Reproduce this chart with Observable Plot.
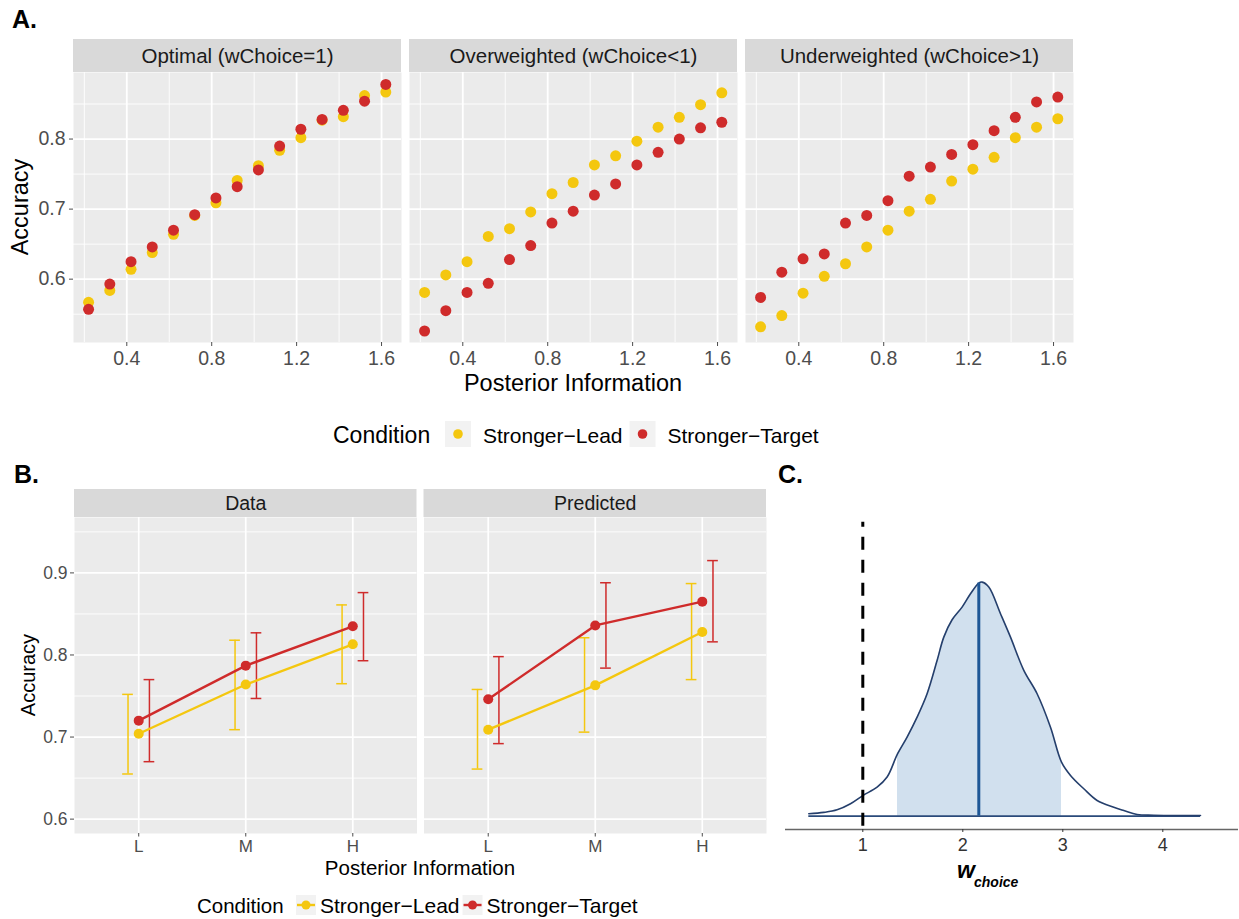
<!DOCTYPE html>
<html><head><meta charset="utf-8">
<script src="https://cdn.jsdelivr.net/npm/d3@7"></script>
<script src="https://cdn.jsdelivr.net/npm/@observablehq/plot@0.6"></script>
<style>
html,body{margin:0;padding:0;background:#fff;}
#root{position:relative;width:1239px;height:919px;overflow:hidden;background:#fff;font-family:"Liberation Sans",Arial,Helvetica,sans-serif;}
#root svg{position:absolute;max-width:none;}
</style></head><body><div id="root"></div>
<script>
// ---------------- DATA ----------------
const conditions = ["Stronger\u2212Lead", "Stronger\u2212Target"];
const condColors = ["#F4C70F", "#CF2B2B"];

// Panel A
const facetsA = ["Optimal (wChoice=1)", "Overweighted (wChoice<1)", "Underweighted (wChoice>1)"];
const posteriorInfo = [0.22, 0.32, 0.42, 0.52, 0.62, 0.72, 0.82, 0.92, 1.02, 1.12, 1.22, 1.32, 1.42, 1.52, 1.62];
const optimalLead   = [0.567, 0.584, 0.614, 0.638, 0.664, 0.691, 0.709, 0.741, 0.762, 0.784, 0.802, 0.827, 0.832, 0.862, 0.867];
const optimalTarget = [0.557, 0.593, 0.625, 0.646, 0.670, 0.692, 0.716, 0.732, 0.756, 0.790, 0.814, 0.828, 0.841, 0.854, 0.878];
const overLead      = [0.581, 0.606, 0.625, 0.661, 0.672, 0.696, 0.722, 0.738, 0.763, 0.776, 0.797, 0.817, 0.831, 0.849, 0.866];
const overTarget    = [0.526, 0.555, 0.581, 0.594, 0.628, 0.648, 0.680, 0.697, 0.720, 0.736, 0.763, 0.781, 0.800, 0.816, 0.824];
const underLead     = [0.532, 0.548, 0.580, 0.604, 0.622, 0.646, 0.670, 0.697, 0.714, 0.740, 0.757, 0.774, 0.802, 0.817, 0.829];
const underTarget   = [0.574, 0.610, 0.629, 0.636, 0.680, 0.691, 0.712, 0.747, 0.760, 0.778, 0.792, 0.812, 0.831, 0.853, 0.860];
const xTicksA = [0.4, 0.8, 1.2, 1.6];
const xMinorA = [0.2, 0.6, 1.0, 1.4];
const yTicksA = [0.6, 0.7, 0.8];
const yMinorA = [0.55, 0.65, 0.75, 0.85];

// Panel B
const facetsB = ["Data", "Predicted"];
const infoLevels = ["L", "M", "H"];
const dataLeadMean   = [0.704, 0.764, 0.813];
const dataLeadLo     = [0.655, 0.709, 0.765];
const dataLeadHi     = [0.752, 0.818, 0.861];
const dataTargetMean = [0.720, 0.787, 0.835];
const dataTargetLo   = [0.670, 0.747, 0.793];
const dataTargetHi   = [0.770, 0.827, 0.876];
const predLeadMean   = [0.709, 0.763, 0.828];
const predLeadLo     = [0.661, 0.706, 0.770];
const predLeadHi     = [0.758, 0.821, 0.887];
const predTargetMean = [0.746, 0.836, 0.865];
const predTargetLo   = [0.692, 0.784, 0.816];
const predTargetHi   = [0.798, 0.888, 0.915];
const yTicksB = [0.6, 0.7, 0.8, 0.9];
const yMinorB = [0.65, 0.75, 0.85, 0.95];

// Panel C (posterior density of w_choice, relative height)
const densX = [0.46, 0.61, 0.743, 0.877, 1.0, 1.143, 1.243, 1.347, 1.443, 1.543, 1.643, 1.743, 1.81, 1.893, 1.993, 2.077, 2.16, 2.193, 2.26, 2.377, 2.477, 2.61, 2.743, 2.877, 2.987, 3.077, 3.21, 3.343, 3.51, 3.61, 3.743, 3.91, 4.377];
const densH = [0.010, 0.016, 0.027, 0.053, 0.088, 0.124, 0.167, 0.266, 0.338, 0.423, 0.523, 0.665, 0.765, 0.839, 0.893, 0.950, 0.996, 1.0, 0.979, 0.865, 0.765, 0.623, 0.523, 0.380, 0.231, 0.174, 0.117, 0.067, 0.038, 0.024, 0.007, 0.004, 0.003];
const ciLow = 1.347, ciHigh = 2.987;
const medianW = 2.16, medianH = 0.996;
const optimalW = 1;
const wTicks = [1, 2, 3, 4];

// ---------------- BUILD TABLES ----------------
const seriesA = [[optimalLead, optimalTarget], [overLead, overTarget], [underLead, underTarget]];
const dataA = facetsA.flatMap((f, fi) => conditions.flatMap((c, ci) =>
  posteriorInfo.map((x, i) => ({facet: f, cond: c, x, y: seriesA[fi][ci][i]}))));

const seriesB = [
  [[dataLeadMean, dataLeadLo, dataLeadHi], [dataTargetMean, dataTargetLo, dataTargetHi]],
  [[predLeadMean, predLeadLo, predLeadHi], [predTargetMean, predTargetLo, predTargetHi]]
];
const dodge = 0.1, capHalf = 0.05;
const dataB = facetsB.flatMap((f, fi) => conditions.flatMap((c, ci) =>
  infoLevels.map((lev, i) => ({
    facet: f, cond: c, pos: i + 1, ex: i + 1 + (ci === 0 ? -dodge : dodge),
    mean: seriesB[fi][ci][0][i], lo: seriesB[fi][ci][1][i], hi: seriesB[fi][ci][2][i]
  }))));

const dens = densX.map((x, i) => ({x, h: densH[i]}));
const densCI = dens.filter(d => d.x >= ciLow && d.x <= ciHigh);

// ---------------- LAYOUT ----------------
const FONT = '"Liberation Sans", Arial, Helvetica, sans-serif';
const root = document.getElementById("root");
function place(el, left, top) { el.style.left = left + "px"; el.style.top = top + "px"; root.appendChild(el); }
const colorScale = {domain: conditions, range: condColors};
const baseStyle = {fontFamily: FONT, background: "transparent", overflow: "visible"};

// ----- Panel A -----
const A_L = 73, A_R = 1073, A_T = 72, A_B = 342;
const padA = 8 / 336;
const plotA = Plot.plot({
  width: A_R + 10, height: (A_B - A_T) + 60,
  marginLeft: A_L, marginRight: 10, marginTop: 0, marginBottom: 60,
  style: baseStyle,
  fx: {domain: facetsA, paddingInner: padA, paddingOuter: 0, round: false, axis: null, label: null},
  x: {domain: [0.149, 1.694], label: null},
  y: {domain: [0.5096, 0.895], label: null},
  color: colorScale,
  marks: [
    Plot.frame({fill: "#EBEBEB", stroke: "none"}),
    Plot.gridX({ticks: xMinorA, stroke: "#fff", strokeOpacity: 1, strokeWidth: 0.9}),
    Plot.gridY({ticks: yMinorA, stroke: "#fff", strokeOpacity: 1, strokeWidth: 0.9}),
    Plot.gridX({ticks: xTicksA, stroke: "#fff", strokeOpacity: 1, strokeWidth: 1.8}),
    Plot.gridY({ticks: yTicksA, stroke: "#fff", strokeOpacity: 1, strokeWidth: 1.8}),
    Plot.axisX({ticks: xTicksA, tickFormat: d3.format(".1f"), tickSize: 4, tickPadding: 5, fontSize: 19.5, color: "#4d4d4d", label: null}),
    Plot.axisY({ticks: yTicksA, tickFormat: d3.format(".1f"), tickSize: 4, tickPadding: 4, fontSize: 19.5, color: "#4d4d4d", label: null}),
    Plot.dot(dataA, {fx: "facet", x: "x", y: "y", fill: "cond", r: 5.5})
  ]
});
place(plotA, 0, A_T);

const stripA = Plot.plot({
  width: A_R + 10, height: 33, marginLeft: A_L, marginRight: 10, marginTop: 0, marginBottom: 0,
  style: baseStyle,
  x: {domain: facetsA, paddingInner: padA, paddingOuter: 0, round: false, axis: null},
  marks: [
    Plot.cell(facetsA, {x: d => d, fill: "#D9D9D9", inset: 0}),
    Plot.text(facetsA, {x: d => d, text: d => d, fontSize: 20.5, fill: "#1a1a1a"})
  ]
});
place(stripA, 0, 39);

// ----- Panel B -----
const B_L = 74, B_R = 766, B_T = 517, B_B = 833;
const padB = 7 / 349.5;
const plotB = Plot.plot({
  width: B_R + 10, height: (B_B - B_T) + 40,
  marginLeft: B_L, marginRight: 10, marginTop: 0, marginBottom: 40,
  style: baseStyle,
  fx: {domain: facetsB, paddingInner: padB, paddingOuter: 0, round: false, axis: null, label: null},
  x: {domain: [0.4, 3.6], label: null},
  y: {domain: [0.5825, 0.9675], label: null},
  color: colorScale,
  marks: [
    Plot.frame({fill: "#EBEBEB", stroke: "none"}),
    Plot.gridY({ticks: yMinorB, stroke: "#fff", strokeOpacity: 1, strokeWidth: 0.9}),
    Plot.gridY({ticks: yTicksB, stroke: "#fff", strokeOpacity: 1, strokeWidth: 1.7}),
    Plot.gridX({ticks: [1, 2, 3], stroke: "#fff", strokeOpacity: 1, strokeWidth: 1.7}),
    Plot.axisX({ticks: [1, 2, 3], tickFormat: d => infoLevels[d - 1], tickSize: 3.5, tickPadding: 3, fontSize: 17, color: "#4d4d4d", label: null}),
    Plot.axisY({ticks: yTicksB, tickFormat: d3.format(".1f"), tickSize: 4, tickPadding: 3, fontSize: 17.5, color: "#4d4d4d", label: null}),
    Plot.ruleX(dataB, {fx: "facet", x: "ex", y1: "lo", y2: "hi", stroke: "cond", strokeWidth: 1.5}),
    Plot.ruleY(dataB, {fx: "facet", y: "lo", x1: d => d.ex - capHalf, x2: d => d.ex + capHalf, stroke: "cond", strokeWidth: 1.5}),
    Plot.ruleY(dataB, {fx: "facet", y: "hi", x1: d => d.ex - capHalf, x2: d => d.ex + capHalf, stroke: "cond", strokeWidth: 1.5}),
    Plot.line(dataB, {fx: "facet", x: "pos", y: "mean", z: "cond", stroke: "cond", strokeWidth: 2.4}),
    Plot.dot(dataB, {fx: "facet", x: "pos", y: "mean", fill: "cond", r: 5})
  ]
});
place(plotB, 0, B_T);

const stripB = Plot.plot({
  width: B_R + 10, height: 28, marginLeft: B_L, marginRight: 10, marginTop: 0, marginBottom: 0,
  style: baseStyle,
  x: {domain: facetsB, paddingInner: padB, paddingOuter: 0, round: false, axis: null},
  marks: [
    Plot.cell(facetsB, {x: d => d, fill: "#D9D9D9", inset: 0}),
    Plot.text(facetsB, {x: d => d, text: d => d, fontSize: 19.5, fill: "#1a1a1a"})
  ]
});
place(stripB, 0, 489);

// ----- Panel C -----
const cYDomain = [-0.057, 1.256];
const plotC = Plot.plot({
  width: 469, height: 440,
  marginLeft: 15, marginRight: 1, marginTop: 61.7, marginBottom: 71,
  style: baseStyle,
  x: {domain: [0.227, 4.757], label: null},
  y: {domain: cYDomain, axis: null},
  marks: [
    Plot.areaY(densCI, {x: "x", y: "h", fill: "#D1E0EE", curve: "catmull-rom"}),
    Plot.ruleY([{h: 0}], {y: "h", x1: densX[0], x2: densX[densX.length - 1], stroke: "#2A4A7A", strokeWidth: 1.6}),
    Plot.line(dens, {x: "x", y: "h", stroke: "#253F6C", strokeWidth: 1.6, curve: "catmull-rom"}),
    Plot.ruleX([{x: medianW, h: medianH}], {x: "x", y1: 0, y2: "h", stroke: "#1E5796", strokeWidth: 3}),
    Plot.ruleY([cYDomain[0]], {stroke: "#666", strokeWidth: 1.3}),
    Plot.ruleX([optimalW], {stroke: "#000", strokeWidth: 3, strokeDasharray: "13,10", strokeDashoffset: 8}),
    Plot.axisX({ticks: wTicks, tickFormat: d3.format("d"), tickSize: 3, tickPadding: 6, fontSize: 18, color: "#333", label: null})
  ]
});
place(plotC, 770, 460);

// ----- Overlay text: panel labels, axis titles, legends -----
const ov = d3.select(root).append("svg")
  .attr("width", 1239).attr("height", 919)
  .style("left", "0px").style("top", "0px").style("pointer-events", "none")
  .style("font-family", FONT);

function txt(x, y, s, o = {}) {
  const t = ov.append("text").attr("x", x).attr("y", y).text(s)
    .attr("font-size", o.size || 20).attr("fill", o.fill || "#000")
    .attr("text-anchor", o.anchor || "start");
  if (o.weight) t.attr("font-weight", o.weight);
  if (o.style) t.attr("font-style", o.style);
  if (o.rotate) t.attr("transform", `rotate(-90 ${x} ${y})`);
  return t;
}

// panel letters
txt(12, 28, "A.", {size: 25, weight: "bold"});
txt(14, 483, "B.", {size: 25, weight: "bold"});
txt(778, 483, "C.", {size: 25, weight: "bold"});

// Panel A titles
txt(28, (A_T + A_B) / 2, "Accuracy", {size: 23.5, anchor: "middle", rotate: true});
txt((A_L + A_R) / 2, 391, "Posterior Information", {size: 23.5, anchor: "middle"});

// Panel B titles
txt(35, (B_T + B_B) / 2, "Accuracy", {size: 20, anchor: "middle", rotate: true});
txt((B_L + B_R) / 2, 875, "Posterior Information", {size: 20.5, anchor: "middle"});

// Panel C title w_choice
txt(957, 878, "w", {size: 23, weight: "bold", style: "italic"});
txt(974, 886.5, "choice", {size: 14, weight: "bold", style: "italic"});

// Legend A (points)
txt(333, 443, "Condition", {size: 23});
{
  let x = 445;
  conditions.forEach((c, i) => {
    ov.append("rect").attr("x", x).attr("y", 421).attr("width", 26).attr("height", 26).attr("fill", "#F2F2F2");
    ov.append("circle").attr("cx", x + 13).attr("cy", 434).attr("r", 4.8).attr("fill", condColors[i]);
    const t = txt(x + 38, 443, c, {size: 21});
    x = x + 38 + t.node().getComputedTextLength() + 7;
  });
}

// Legend B (line + point)
txt(197, 913, "Condition", {size: 20.5});
{
  let x = 296;
  conditions.forEach((c, i) => {
    ov.append("rect").attr("x", x).attr("y", 895).attr("width", 20).attr("height", 20).attr("fill", "#F2F2F2");
    ov.append("line").attr("x1", x + 1).attr("x2", x + 19).attr("y1", 905).attr("y2", 905)
      .attr("stroke", condColors[i]).attr("stroke-width", 2.4);
    ov.append("circle").attr("cx", x + 10).attr("cy", 905).attr("r", 4.5).attr("fill", condColors[i]);
    const t = txt(x + 24, 913, c, {size: 21});
    x = x + 24 + t.node().getComputedTextLength() + 3;
  });
}
</script></body></html>
